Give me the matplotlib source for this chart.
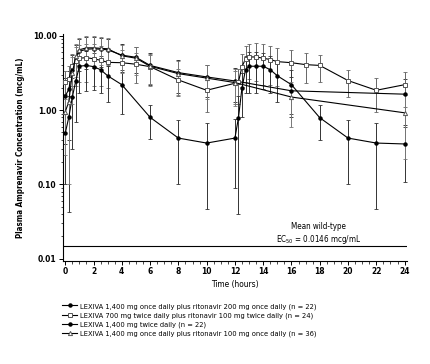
import numpy as np
import matplotlib
matplotlib.use("Agg")
import matplotlib.pyplot as plt
from matplotlib.ticker import FixedLocator, NullFormatter, MultipleLocator, LogLocator

plt.rcParams['font.family'] = ['DejaVu Sans']
plt.rcParams['font.stretch'] = 'condensed'

# ---- data ----
t_qd = [0, 0.25, 0.5, 0.75, 1, 1.5, 2, 2.5, 3, 4, 5, 6, 8, 10, 12, 16, 24]
t_bid = [0, 0.25, 0.5, 0.75, 1, 1.5, 2, 2.5, 3, 4, 5, 6, 8, 10, 12,
         12.25, 12.5, 12.75, 13, 13.5, 14, 14.5, 15, 16, 17, 18, 20, 22, 24]
t_bid1400 = [0, 0.25, 0.5, 0.75, 1, 1.5, 2, 2.5, 3, 4, 6, 8, 10, 12,
             12.25, 12.5, 12.75, 13, 13.5, 14, 14.5, 15, 16, 18, 20, 22, 24]

qd_rtv200 = [1.55, 1.9, 3.5, 5.0, 6.2, 6.6, 6.7, 6.6, 6.5, 5.5, 5.15, 4.0, 3.2, 2.8, 2.47, 1.82, 1.64]
qd_rtv200_sd = [1.2, 1.5, 2.0, 2.5, 2.8, 3.0, 3.0, 2.8, 2.6, 2.2, 2.0, 1.8, 1.5, 1.3, 1.2, 1.0, 1.0]

bid700_rtv100 = [2.4, 2.6, 3.9, 4.6, 5.0, 5.1, 4.9, 4.7, 4.4, 4.35, 4.15, 3.85, 2.55, 1.85, 2.3,
                 2.4, 3.85, 4.9, 5.2, 5.2, 5.0, 4.8, 4.5, 4.35, 4.1, 4.0, 2.5, 1.85, 2.2]
bid700_rtv100_sd = [1.0, 1.3, 1.8, 2.5, 2.6, 2.7, 2.8, 2.6, 2.4, 2.2, 1.8, 1.6, 1.0, 0.9, 1.1,
                    1.2, 1.8, 2.5, 2.6, 2.7, 2.8, 2.6, 2.4, 2.2, 1.8, 1.6, 1.0, 0.9, 1.1]

bid1400 = [0.49, 0.8, 1.5, 2.5, 3.9, 4.0, 3.85, 3.5, 2.9, 2.2, 0.8, 0.42, 0.36, 0.42,
           0.79, 2.0, 3.5, 3.9, 3.9, 3.9, 3.5, 2.9, 2.2, 0.79, 0.42, 0.36, 0.35]
bid1400_sd = [0.39, 0.757, 1.2, 1.8, 2.2, 2.2, 2.0, 1.8, 1.6, 1.3, 0.39, 0.32, 0.314, 0.33,
              0.75, 1.2, 1.8, 2.2, 2.2, 2.0, 1.8, 1.6, 1.3, 0.39, 0.32, 0.314, 0.244]

qd_rtv100 = [0.95, 1.3, 3.2, 5.3, 6.5, 6.9, 6.9, 6.8, 6.7, 5.4, 5.0, 3.9, 3.1, 2.7, 2.35, 1.5, 0.92]
qd_rtv100_sd = [0.7, 1.2, 2.0, 2.5, 2.8, 3.0, 3.0, 2.8, 2.6, 2.2, 2.0, 1.8, 1.5, 1.3, 1.2, 0.9, 0.7]

labels = [
    "LEXIVA 1,400 mg once daily plus ritonavir 200 mg once daily (n = 22)",
    "LEXIVA 700 mg twice daily plus ritonavir 100 mg twice daily (n = 24)",
    "LEXIVA 1,400 mg twice daily (n = 22)",
    "LEXIVA 1,400 mg once daily plus ritonavir 100 mg once daily (n = 36)",
]
ec50 = 0.0146
x_ticks = [0, 2, 4, 6, 8, 10, 12, 14, 16, 18, 20, 22, 24]
y_ticks = [0.01, 0.1, 1, 10]
y_ticklabels = ["0.01", "0.10", "1.00", "10.00"]

# ---- figure ----
fig = plt.figure(figsize=(4.30, 3.64), dpi=100)
ax = fig.add_axes([0.1465, 0.2838, 0.799, 0.6228])

series = [
    (t_qd, qd_rtv200, qd_rtv200_sd, dict(marker='o', mfc='black', mec='black', ms=2.2), '#222222'),
    (t_bid, bid700_rtv100, bid700_rtv100_sd, dict(marker='s', mfc='white', mec='#555555', ms=3.0, mew=0.7), '#666666'),
    (t_bid1400, bid1400, bid1400_sd, dict(marker='o', mfc='black', mec='black', ms=2.2), '#333333'),
    (t_qd, qd_rtv100, qd_rtv100_sd, dict(marker='^', mfc='white', mec='#555555', ms=3.0, mew=0.7), '#777777'),
]

handles = []
for (t, m, sd, mk, ecol), lab in zip(series, labels):
    t = np.array(t); m = np.array(m); sd = np.array(sd)
    lo = np.maximum(m - sd, 0.005)
    hi = m + sd
    ax.errorbar(t, m, yerr=[m - lo, hi - m], fmt='none', ecolor=ecol,
                elinewidth=0.7, capsize=1.3, capthick=0.6, zorder=2)
    h, = ax.plot(t, m, color='black', lw=0.8, zorder=3, label=lab, **mk)
    handles.append(h)

ax.axhline(ec50, xmin=0.0, xmax=1.0, color='black', lw=0.8)
ax.text(17.9, 0.0215, "Mean wild-type\nEC$_{50}$ = 0.0146 mcg/mL", ha='center', va='center',
        fontsize=5.8, linespacing=1.3)

ax.set_yscale('log')
ax.set_xlim(-0.16, 24.14)
ax.set_ylim(0.00937, 10.6)
ax.yaxis.set_major_locator(FixedLocator(y_ticks))
ax.set_yticklabels(y_ticklabels)
ax.yaxis.set_minor_locator(LogLocator(base=10, subs=np.arange(2, 10)))
ax.yaxis.set_minor_formatter(NullFormatter())
ax.xaxis.set_major_locator(FixedLocator(x_ticks))
ax.xaxis.set_minor_locator(MultipleLocator(0.5))

for s in ['top', 'right']:
    ax.spines[s].set_visible(False)
for s in ['left', 'bottom']:
    ax.spines[s].set_linewidth(0.8)

ax.tick_params(axis='both', which='major', direction='out', length=3, width=0.7,
               labelsize=6, pad=1.5)
ax.tick_params(axis='both', which='minor', direction='out', length=1.8, width=0.5)
for lbl in ax.get_xticklabels() + ax.get_yticklabels():
    lbl.set_fontweight('bold')

ax.set_xlabel("Time (hours)", fontsize=6, labelpad=3)
ax.set_ylabel("Plasma Amprenavir Concentration (mcg/mL)", fontsize=5.8, labelpad=6, fontweight='bold')

fig.legend(handles=handles, labels=labels, loc='upper left', bbox_to_anchor=(0.145, 0.168),
           frameon=False, fontsize=5.4, handlelength=2.0, handletextpad=0.3,
           labelspacing=0.33, borderaxespad=0, borderpad=0)

fig.savefig("out.png", dpi=100)
